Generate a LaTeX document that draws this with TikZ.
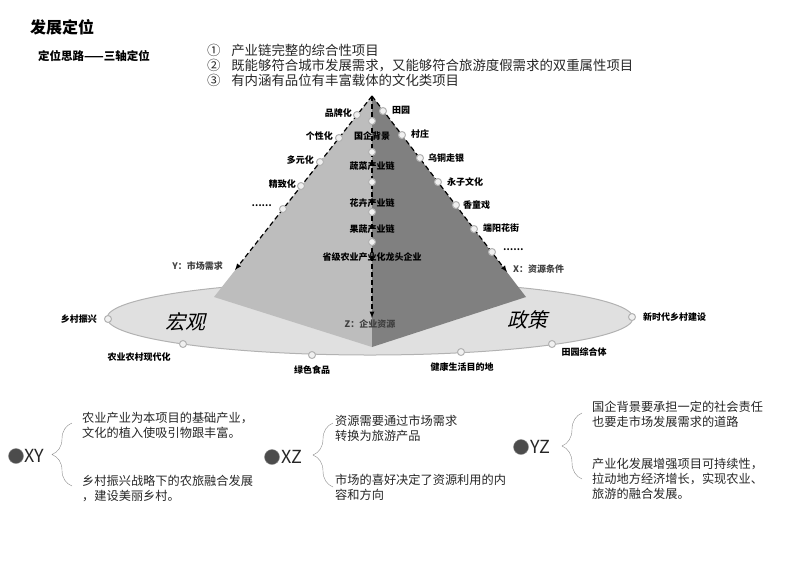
\documentclass[tikz,border=0pt]{standalone}
\usepackage{fontspec}
\setmainfont{Noto Sans CJK SC}
\newfontfamily\penche[FakeSlant=0.25]{Noto Sans CJK SC}
\usetikzlibrary{decorations.pathreplacing}

\begin{document}
\begin{tikzpicture}[x=1pt, y=-1pt]
 \tikzstyle{pastille}=[circle, draw=black!30, fill=black!6, line width=1pt, inner sep=0pt, minimum size=7pt]
 \tikzstyle{axe}=[->, >=latex, line width=1.2pt, dash pattern=on 5pt off 3pt]
 \tikzstyle{etiq}=[font=\bfseries\fontsize{9}{10}\selectfont, inner sep=1pt]
 \tikzstyle{axenom}=[font=\bfseries\fontsize{9}{10}\selectfont, inner sep=1pt, text=black!75]
 \tikzstyle{texte}=[font=\fontsize{12.2}{15}\selectfont, align=left, anchor=west, inner sep=0pt, text=black!85]
 \tikzstyle{accolade}=[decorate, decoration={brace, amplitude=20pt}, draw=black!45, thin]
 \tikzstyle{boule}=[circle, fill=black!70, draw=black!45, inner sep=0pt, minimum size=15pt]
 \tikzstyle{paire}=[font=\fontsize{18}{18}\selectfont, inner sep=0pt, anchor=west, text=black!85]
 \useasboundingbox (0,0) rectangle (800,566);
 %
 \node[font=\bfseries\fontsize{16}{16}\selectfont, anchor=west, inner sep=0pt] (titre) at (30,27) {发展定位};
 \node[font=\bfseries\fontsize{11.5}{12}\selectfont, anchor=west, inner sep=0pt] (sous) at (38,56) {定位思路——三轴定位};
 \node[font=\fontsize{13.4}{15}\selectfont, anchor=west, align=left, inner sep=0pt, text=black!85] (liste) at (207,65) {①\hspace{0.8em}产业链完整的综合性项目\\②\hspace{0.8em}既能够符合城市发展需求，又能够符合旅游度假需求的双重属性项目\\③\hspace{0.8em}有内涵有品位有丰富载体的文化类项目};
 %
 \draw[fill=black!12, draw=black!30, line width=1pt] (370,318) ellipse [x radius=263pt, y radius=37pt];
 %
 \coordinate (sommet) at (372,96);
 \coordinate (gauche) at (214,297);
 \coordinate (avant) at (372,347);
 \coordinate (droite) at (526,297);
 \fill[black!26] (sommet)--(gauche)--(avant)--cycle;
 \fill[black!50] (sommet)--(avant)--(droite)--cycle;
 %
 \coordinate (Y) at (235,270);
 \coordinate (X) at (507,272);
 \coordinate (Z) at (372,318);
 \draw[axe] (sommet)--(Y);
 \draw[axe] (sommet)--(X);
 \draw[axe] (sommet)--(Z);
 \node[axenom, anchor=east] (nY) at (224,266) {Y：市场需求};
 \node[axenom, anchor=west] (nX) at (512,269) {X：资源条件};
 \node[axenom] (nZ) at (370,324) {Z：企业资源};
 %
 \node[pastille] (g1) at (357,115) {};
 \node[pastille] (g2) at (339,138) {};
 \node[pastille] (g3) at (320,162) {};
 \node[pastille] (g4) at (301,186) {};
 \node[pastille] (g5) at (283,209) {};
 \node[etiq, anchor=east] (lg1) at (353,113) {品牌化};
 \node[etiq, anchor=east] (lg2) at (334,136) {个性化};
 \node[etiq, anchor=east] (lg3) at (315,160) {多元化};
 \node[etiq, anchor=east] (lg4) at (297,184) {精致化};
 \node[etiq, anchor=east] (lg5) at (273,206) {……};
 %
 \node[pastille] (d1) at (383,111) {};
 \node[pastille] (d2) at (402,135) {};
 \node[pastille] (d3) at (420,158) {};
 \node[pastille] (d4) at (438,182) {};
 \node[pastille] (d5) at (456,205) {};
 \node[pastille] (d6) at (474,229) {};
 \node[pastille] (d7) at (492,252) {};
 \node[etiq, anchor=west] (ld1) at (391,110) {田园};
 \node[etiq, anchor=west] (ld2) at (410,134) {村庄};
 \node[etiq, anchor=west] (ld3) at (427,158) {乌铜走银};
 \node[etiq, anchor=west] (ld4) at (446,182) {永子文化};
 \node[etiq, anchor=west] (ld5) at (462,205) {香童戏};
 \node[etiq, anchor=west] (ld6) at (482,228) {端阳花街};
 \node[etiq, anchor=west] (ld7) at (502,250) {……};
 %
 \node[pastille] (c1) at (372,121) {};
 \node[pastille] (c2) at (372,152) {};
 \node[pastille] (c3) at (372,182) {};
 \node[pastille] (c4) at (372,212) {};
 \node[pastille] (c5) at (372,242) {};
 \node[etiq] (lc1) at (372,136) {国企背景};
 \node[etiq] (lc2) at (372,166) {蔬菜产业链};
 \node[etiq] (lc3) at (372,203) {花卉产业链};
 \node[etiq] (lc4) at (372,229) {果蔬产业链};
 \node[etiq] (lc5) at (372,257) {省级农业产业化龙头企业};
 %
 \node[font=\penche\fontsize{20}{20}\selectfont] (macro) at (185,322) {宏观};
 \node[font=\penche\fontsize{20}{20}\selectfont] (polit) at (527,320) {政策};
 %
 \node[pastille] (e1) at (108,319) {};
 \node[pastille] (e2) at (183,344) {};
 \node[pastille] (e3) at (312,355) {};
 \node[pastille] (e4) at (461,352) {};
 \node[pastille] (e5) at (552,344) {};
 \node[pastille] (e6) at (632,317) {};
 \node[etiq, anchor=east] (le1) at (98,319) {乡村振兴};
 \node[etiq] (le2) at (139,357) {农业农村现代化};
 \node[etiq] (le3) at (312,370) {绿色食品};
 \node[etiq] (le4) at (462,367) {健康生活目的地};
 \node[etiq] (le5) at (584,352) {田园综合体};
 \node[etiq, anchor=west] (le6) at (642,317) {新时代乡村建设};
 %
 \node[boule] (bXY) at (16,456) {};
 \node[paire] (XY) at (24,456) {XY};
 \coordinate (XYh) at (72,423);
 \coordinate (XYb) at (72,486);
 \draw[accolade] (XYb)--(XYh);
 \node[texte] (XY1) at (82,425) {农业产业为本项目的基础产业，\\文化的植入使吸引物跟丰富。};
 \node[texte] (XY2) at (82,488) {乡村振兴战略下的农旅融合发展\\，建设美丽乡村。};
 %
 \node[boule] (bXZ) at (272,457) {};
 \node[paire] (XZ) at (281,457) {XZ};
 \coordinate (XZh) at (333,423);
 \coordinate (XZb) at (333,487);
 \draw[accolade] (XZb)--(XZh);
 \node[texte] (XZ1) at (335,428) {资源需要通过市场需求\\转换为旅游产品};
 \node[texte] (XZ2) at (335,487) {市场的喜好决定了资源利用的内\\容和方向};
 %
 \node[boule] (bYZ) at (521,447) {};
 \node[paire] (YZ) at (530,447) {YZ};
 \coordinate (YZh) at (582,413);
 \coordinate (YZb) at (582,479);
 \draw[accolade] (YZb)--(YZh);
 \node[texte] (YZ1) at (592,414) {国企背景要承担一定的社会责任\\也要走市场发展需求的道路};
 \node[texte] (YZ2) at (592,479) {产业化发展增强项目可持续性，\\拉动地方经济增长，实现农业、\\旅游的融合发展。};
\end{tikzpicture}
\end{document}
